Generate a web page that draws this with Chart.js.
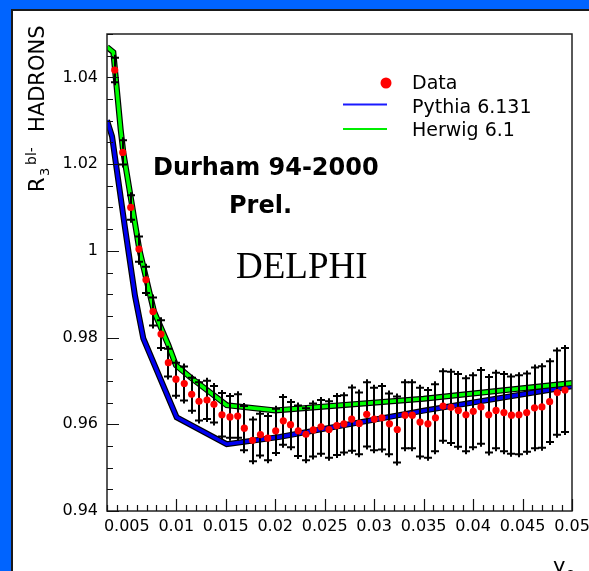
<!DOCTYPE html>
<html>
<head>
<meta charset="utf-8">
<script src="https://cdn.jsdelivr.net/npm/chart.js@4.4.1/dist/chart.umd.min.js"></script>
<style>
  html, body { margin: 0; padding: 0; width: 589px; height: 571px; overflow: hidden; background: #0064ff; }
  #panel { position: absolute; left: 11px; top: 9px; width: 600px; height: 600px; background: #fff;
           border-left: 2px solid #1a1a1a; border-top: 2px solid #1a1a1a; }
  #c { position: absolute; left: 0; top: 0; }
</style>
</head>
<body>
<div id="panel"></div>
<canvas id="c" width="589" height="571"></canvas>
<script>
// ── DATA ──────────────────────────────────────────────────────────────────
// DELPHI data points (y_c, R3 ratio, total error)
const dataX = [0.00378, 0.00459, 0.00540, 0.00623, 0.00694, 0.00765, 0.00846, 0.00920, 0.00997, 0.01081,
               0.01156, 0.01230, 0.01311, 0.01381, 0.01462, 0.01543, 0.01621, 0.01688, 0.01771, 0.01851,
               0.01924, 0.02005, 0.02082, 0.02155, 0.02233, 0.02311, 0.02385, 0.02463, 0.02544, 0.02622,
               0.02695, 0.02773, 0.02850, 0.02925, 0.03002, 0.03079, 0.03155, 0.03234, 0.03312, 0.03386,
               0.03464, 0.03544, 0.03620, 0.03696, 0.03777, 0.03851, 0.03928, 0.04002, 0.04080, 0.04158,
               0.04232, 0.04312, 0.04388, 0.04464, 0.04542, 0.04621, 0.04696, 0.04774, 0.04851, 0.04929];
const dataY = [1.0417, 1.0227, 1.0100, 1.0004, 0.9933, 0.9860, 0.9808, 0.9742, 0.9704, 0.9694,
               0.9669, 0.9653, 0.9656, 0.9646, 0.9622, 0.9617, 0.9619, 0.9591, 0.9563, 0.9576,
               0.9568, 0.9585, 0.9608, 0.9599, 0.9585, 0.9577, 0.9587, 0.9594, 0.9588, 0.9597,
               0.9601, 0.9612, 0.9602, 0.9623, 0.9612, 0.9615, 0.9601, 0.9588, 0.9621, 0.9621,
               0.9605, 0.9601, 0.9615, 0.9642, 0.9639, 0.9632, 0.9622, 0.9630, 0.9640, 0.9622,
               0.9632, 0.9627, 0.9621, 0.9622, 0.9627, 0.9638, 0.9640, 0.9652, 0.9673, 0.9679];
const dataErr = [0.0035, 0.0035, 0.0035, 0.0036, 0.0037, 0.0039, 0.0039, 0.0039, 0.0045, 0.0046,
                 0.0045, 0.0051, 0.0051, 0.0049, 0.0057, 0.0055, 0.0057, 0.0058, 0.0055, 0.0055,
                 0.0058, 0.0058, 0.0062, 0.0059, 0.0065, 0.0067, 0.0068, 0.0069, 0.0072, 0.0075,
                 0.0073, 0.0080, 0.0078, 0.0081, 0.0079, 0.0080, 0.0077, 0.0083, 0.0083, 0.0083,
                 0.0086, 0.0085, 0.0084, 0.0087, 0.0089, 0.0091, 0.0091, 0.0090, 0.0092, 0.0094,
                 0.0094, 0.0096, 0.0096, 0.0098, 0.0097, 0.0100, 0.0101, 0.0100, 0.0104, 0.0104];

// Monte Carlo predictions
const herwigX = [0.0030, 0.00364, 0.00438, 0.00465, 0.00626, 0.00775, 0.00920, 0.00997, 0.01139, 0.0151, 0.0200, 0.0350, 0.0500];
const herwigY = [1.0470, 1.0458, 1.0280, 1.0227, 1.0004, 0.9860, 0.9783, 0.9736, 0.9709, 0.9644, 0.9632, 0.9659, 0.9695];
const pythiaX = [0.0030, 0.00351, 0.00482, 0.00583, 0.00667, 0.01004, 0.0151, 0.02049, 0.03514, 0.0500];
const pythiaY = [1.0301, 1.0264, 1.0053, 0.9896, 0.9798, 0.9616, 0.9554, 0.9571, 0.9632, 0.9688];

// axes
const xTickVals   = [0.005, 0.01, 0.015, 0.02, 0.025, 0.03, 0.035, 0.04, 0.045, 0.05];
const xTickLabels = ['0.005', '0.01', '0.015', '0.02', '0.025', '0.03', '0.035', '0.04', '0.045', '0.05'];
const yTickVals   = [0.94, 0.96, 0.98, 1.0, 1.02, 1.04];
const yTickLabels = ['0.94', '0.96', '0.98', '1', '1.02', '1.04'];

const legendLabels = ['Data', 'Pythia 6.131', 'Herwig 6.1'];

// ── HELPERS ───────────────────────────────────────────────────────────────
const pts = (xs, ys) => xs.map((x, i) => ({ x, y: ys[i] }));
const FONT = '"DejaVu Sans", Arial, sans-serif';

// error bars, drawn right before the data markers
const errorBars = {
  id: 'errorBars',
  beforeDatasetDraw(chart, args) {
    if (args.index !== 0) return;
    const { ctx, chartArea: a, scales: { x, y } } = chart;
    ctx.save();
    ctx.beginPath(); ctx.rect(a.left, a.top, a.right - a.left, a.bottom - a.top); ctx.clip();
    ctx.strokeStyle = '#000'; ctx.lineWidth = 2;
    dataX.forEach((v, i) => {
      const px = Math.round(x.getPixelForValue(v));
      const top = y.getPixelForValue(dataY[i] + dataErr[i]);
      const bot = y.getPixelForValue(dataY[i] - dataErr[i]);
      ctx.beginPath();
      ctx.moveTo(px, top); ctx.lineTo(px, bot);
      ctx.moveTo(px - 4, top + 3); ctx.lineTo(px + 4, top + 3);
      ctx.moveTo(px - 4, bot - 3); ctx.lineTo(px + 4, bot - 3);
      ctx.stroke();
    });
    ctx.restore();
  }
};

// inward ticks + frame, ROOT style
const frameTicks = {
  id: 'frameTicks',
  afterDraw(chart) {
    const { ctx, chartArea: a, scales: { x, y } } = chart;
    ctx.save();
    ctx.strokeStyle = '#222'; ctx.lineWidth = 1.5;
    ctx.strokeRect(a.left, a.top, a.right - a.left, a.bottom - a.top);
    ctx.lineWidth = 1.2; ctx.strokeStyle = '#111';
    ctx.beginPath();
    for (let k = 0; k <= 22; k++) {                 // y: every 0.005
      const v = 0.94 + k * 0.005;
      const py = Math.round(y.getPixelForValue(v)) + 0.5;
      const len = (k % 4 === 0) ? 12 : 6;
      ctx.moveTo(a.left, py); ctx.lineTo(a.left + len, py);
    }
    for (let k = 3; k <= 50; k++) {                 // x: every 0.001
      const px = Math.round(x.getPixelForValue(k / 1000)) + 0.5;
      const len = (k % 5 === 0 && k !== 5) ? 12 : 6;
      ctx.moveTo(px, a.bottom); ctx.lineTo(px, a.bottom - len);
    }
    ctx.stroke();
    ctx.restore();
  }
};

// labels, legend and axis titles
const annotations = {
  id: 'annotations',
  afterDraw(chart) {
    const { ctx } = chart;
    ctx.save();
    ctx.fillStyle = '#000';
    ctx.textBaseline = 'alphabetic';
    ctx.textAlign = 'left';

    ctx.font = 'bold 24px ' + FONT;
    ctx.fillText('Durham 94-2000', 153, 175);
    ctx.fillText('Prel.', 229, 213);
    ctx.font = '37px "Liberation Serif", "Times New Roman", serif';
    ctx.fillText('DELPHI', 236, 278);

    // legend
    ctx.font = '19px ' + FONT;
    ctx.fillText(legendLabels[0], 412, 89);
    ctx.fillText(legendLabels[1], 412, 113);
    ctx.fillText(legendLabels[2], 412, 136);
    ctx.fillStyle = '#ff0000';
    ctx.beginPath(); ctx.arc(386, 83, 5.5, 0, Math.PI * 2); ctx.fill();
    ctx.lineWidth = 2;
    ctx.strokeStyle = '#1a1aff';
    ctx.beginPath(); ctx.moveTo(343, 104.5); ctx.lineTo(387, 104.5); ctx.stroke();
    ctx.strokeStyle = '#00ee00';
    ctx.beginPath(); ctx.moveTo(343, 129); ctx.lineTo(387, 129); ctx.stroke();

    // y title: R_3^{bl-} HADRONS (rotated)
    ctx.fillStyle = '#000';
    ctx.save();
    ctx.translate(43.5, 192);
    ctx.rotate(-Math.PI / 2);
    ctx.font = '21px ' + FONT;
    ctx.fillText('R', 0, 0);
    ctx.font = '13px ' + FONT;
    ctx.fillText('3', 16, 5);
    ctx.font = '14px ' + FONT;
    ctx.fillText('bl-', 27, -8);
    ctx.font = '21px ' + FONT;
    ctx.fillText('HADRONS', 60, 0);
    ctx.restore();

    // x title: y_c
    ctx.font = '21px ' + FONT;
    ctx.fillText('y', 553, 573);
    ctx.font = '14px ' + FONT;
    ctx.fillText('c', 566, 578);
    ctx.restore();
  }
};

// ── CHART ─────────────────────────────────────────────────────────────────
new Chart(document.getElementById('c'), {
  type: 'scatter',
  data: {
    datasets: [
      { label: legendLabels[0], data: pts(dataX, dataY), pointRadius: 3.6, pointBackgroundColor: '#ff0000',
        pointBorderWidth: 0, showLine: false },
      { label: legendLabels[2], data: pts(herwigX, herwigY), showLine: true, borderColor: '#00ff00',
        borderWidth: 3.6, pointRadius: 0, tension: 0 },
      { label: 'herwig-edge', data: pts(herwigX, herwigY), showLine: true, borderColor: '#000',
        borderWidth: 6, pointRadius: 0, tension: 0 },
      { label: legendLabels[1], data: pts(pythiaX, pythiaY), showLine: true, borderColor: '#0000f0',
        borderWidth: 3.6, pointRadius: 0, tension: 0 },
      { label: 'pythia-edge', data: pts(pythiaX, pythiaY), showLine: true, borderColor: '#000',
        borderWidth: 6, pointRadius: 0, tension: 0 },
    ],
  },
  options: {
    responsive: false, animation: false, devicePixelRatio: 1,
    layout: { padding: { left: 0, right: 17, top: 34, bottom: 0 } },
    plugins: { legend: { display: false }, tooltip: { enabled: false } },
    scales: {
      x: {
        type: 'linear', min: 0.003, max: 0.05,
        grid: { display: false, drawTicks: false }, border: { display: false },
        ticks: { color: '#000', font: { family: FONT, size: 16 }, padding: 6, maxRotation: 0, autoSkip: false,
                 callback: (v, i) => xTickLabels[i] },
        afterBuildTicks: s => { s.ticks = xTickVals.map(v => ({ value: v })); },
        afterFit: s => { s.height = 60; s.paddingLeft = 0; s.paddingRight = 0; },
      },
      y: {
        type: 'linear', min: 0.94, max: 1.05,
        grid: { display: false, drawTicks: false }, border: { display: false },
        ticks: { color: '#000', font: { family: FONT, size: 16 }, padding: 9, autoSkip: false,
                 callback: (v, i) => yTickLabels[i] },
        afterBuildTicks: s => { s.ticks = yTickVals.map(v => ({ value: v })); },
        afterFit: s => { s.width = 107; s.paddingTop = 0; s.paddingBottom = 0; },
      },
    },
  },
  plugins: [errorBars, frameTicks, annotations],
});
</script>
</body>
</html>
